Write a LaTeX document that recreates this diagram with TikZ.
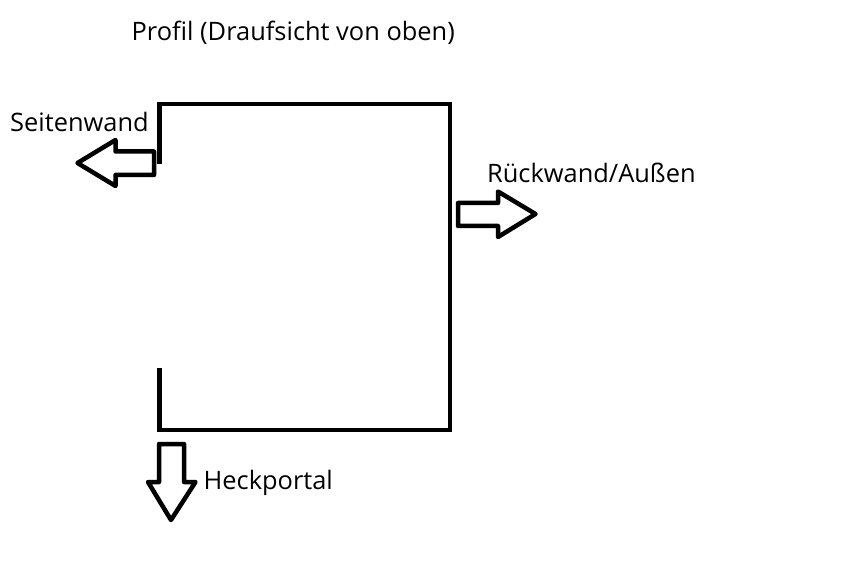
\documentclass[tikz,border=0pt]{standalone}
\usepackage{fontspec}
\setmainfont{Open Sans}
\tikzset{
  wall/.style={draw=black,line width=4.5pt,line cap=butt,line join=miter},
  blockarrow/.style={draw=black,line width=4.5pt,line join=round,fill=white},
  lbl/.style={inner sep=0pt,anchor=base west,text=black,font=\fontsize{25.4pt}{30pt}\selectfont},
}
\begin{document}
\begin{tikzpicture}[x=1pt,y=-1pt]
\useasboundingbox (0,0) rectangle (846,561);
\fill[white] (0,0) rectangle (846,561);
\draw[wall] (159.5,164) -- (159.5,104) -- (450,104) -- (450,430) -- (159.5,430) -- (159.5,368);
\draw[blockarrow] (154,151.5) -- (115.5,151.5) -- (115.5,140) -- (77.5,163) -- (115.5,186) -- (115.5,175) -- (154,175) -- cycle;
\draw[blockarrow] (458,203) -- (498,203) -- (498,191.5) -- (535.5,214) -- (498,237) -- (498,226) -- (458,226) -- cycle;
\draw[blockarrow] (159,444) -- (184,444) -- (184,482) -- (195.5,482) -- (171,520) -- (148,482) -- (159,482) -- cycle;
\node[lbl] (title) at (131.5,41) {Profil (Draufsicht von oben)};
\node[lbl] (side) at (10,132) {Seitenwand};
\node[lbl] (back) at (487,183) {Rückwand/Außen};
\node[lbl] (rear) at (203.5,489) {Heckportal};
\end{tikzpicture}
\end{document}
